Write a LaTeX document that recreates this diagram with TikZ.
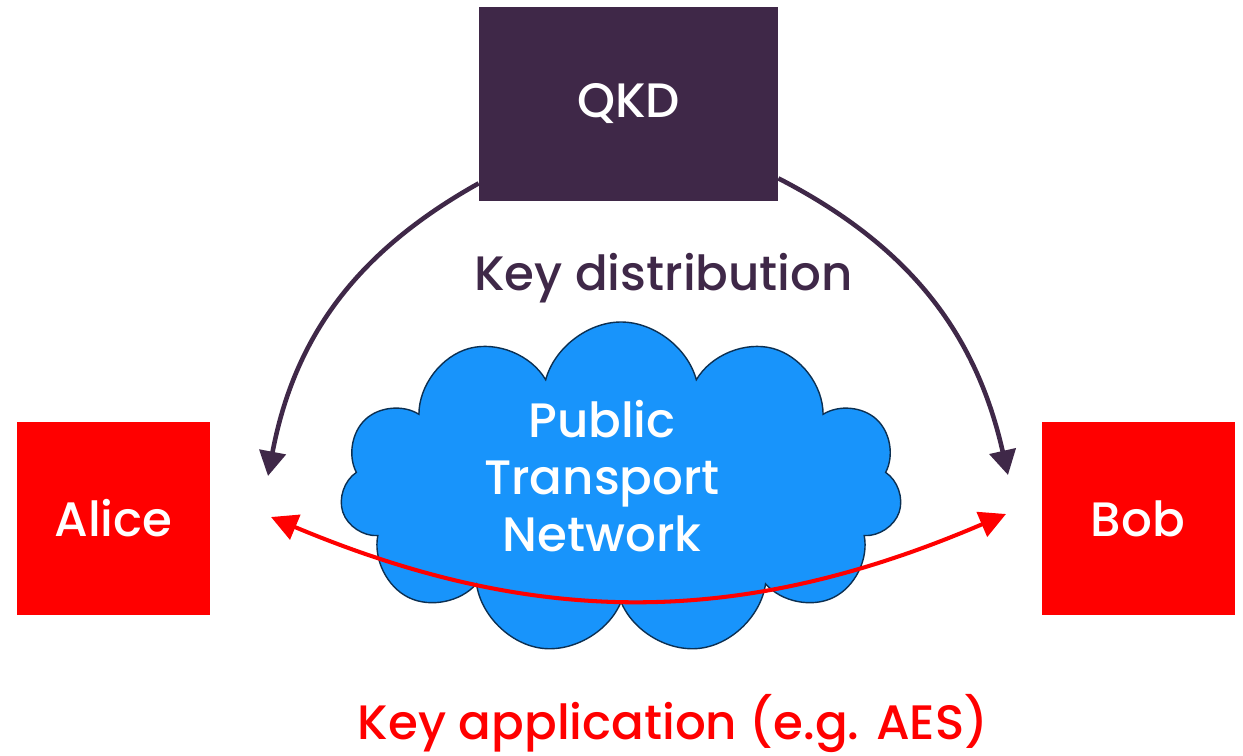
\documentclass[tikz,border=0pt]{standalone}
\usepackage{fontspec}
\setmainfont{Poppins Medium}
\usetikzlibrary{positioning,shapes.symbols,arrows.meta}
\definecolor{qkdpurple}{RGB}{63,40,72}
\definecolor{netblue}{RGB}{24,148,251}
\definecolor{netborder}{RGB}{12,48,82}
\definecolor{keyred}{RGB}{255,0,0}

\begin{document}
\begin{tikzpicture}[
    node distance=1.8cm,
    userbox/.style={rectangle, fill=keyred, minimum width=3.86cm, minimum height=3.86cm, inner sep=0pt, text=white, font=\fontsize{27.5}{32}\selectfont},
    qkdbox/.style={rectangle, fill=qkdpurple, minimum width=5.98cm, minimum height=3.88cm, inner sep=0pt, text=white, font=\fontsize{27.5}{32}\selectfont},
    netcloud/.style={cloud, cloud puffs=11, cloud ignores aspect, draw=netborder, line width=0.8pt, fill=netblue, minimum width=11.24cm, minimum height=6.66cm, inner sep=0pt},
    nettext/.style={text=white, align=center, inner sep=0pt, font=\fontsize{27.5}{32.6}\selectfont},
    keytext/.style={anchor=base, font=\fontsize{27.5}{32}\selectfont},
    distarrow/.style={-{Triangle[width=15pt,length=14pt]}, line width=2.6pt, draw=qkdpurple},
    apparrow/.style={{Triangle[width=15pt,length=15pt]}-{Triangle[width=15pt,length=15pt]}, line width=2.3pt, draw=keyred}
]
    \useasboundingbox (0,0) rectangle (24.86,-15.1);

    % Cloud in the middle
    \node[netcloud] (net) at (12.42,-9.77) {};
    \node[nettext] (nettxt) at ([xshift=-0.38cm, yshift=0.25cm]net.center) {Public\\Transport\\Network};

    % Boxes
    \node[qkdbox] (qkd) at (12.57,-2.08) {QKD};
    \node[userbox] (alice) at (2.27,-10.37) {Alice};
    \node[userbox, right of=alice, node distance=20.49cm] (bob) {Bob};

    % Labels
    \node[keytext, text=qkdpurple] (dist) at (13.27,-5.8) {Key distribution};
    \node[keytext, text=keyred] (app) at (13.46,-14.78) {Key application (e.g. AES)};

    % Arrow ends
    \coordinate (qkdL) at ([yshift=0.36cm]qkd.south west);
    \coordinate (qkdR) at ([yshift=0.46cm]qkd.south east);
    \coordinate (aliceTop) at (5.36,-9.52);
    \coordinate (bobTop) at (20.16,-9.5);
    \coordinate (aliceIn) at (5.42,-10.34);
    \coordinate (bobIn) at (20.12,-10.28);

    % Arrows
    \draw[distarrow] (qkdL) to[bend right=25] (aliceTop);
    \draw[distarrow] (qkdR) to[bend left=25] (bobTop);
    \draw[apparrow] (aliceIn) to[bend right=23] (bobIn);

\end{tikzpicture}
\end{document}
